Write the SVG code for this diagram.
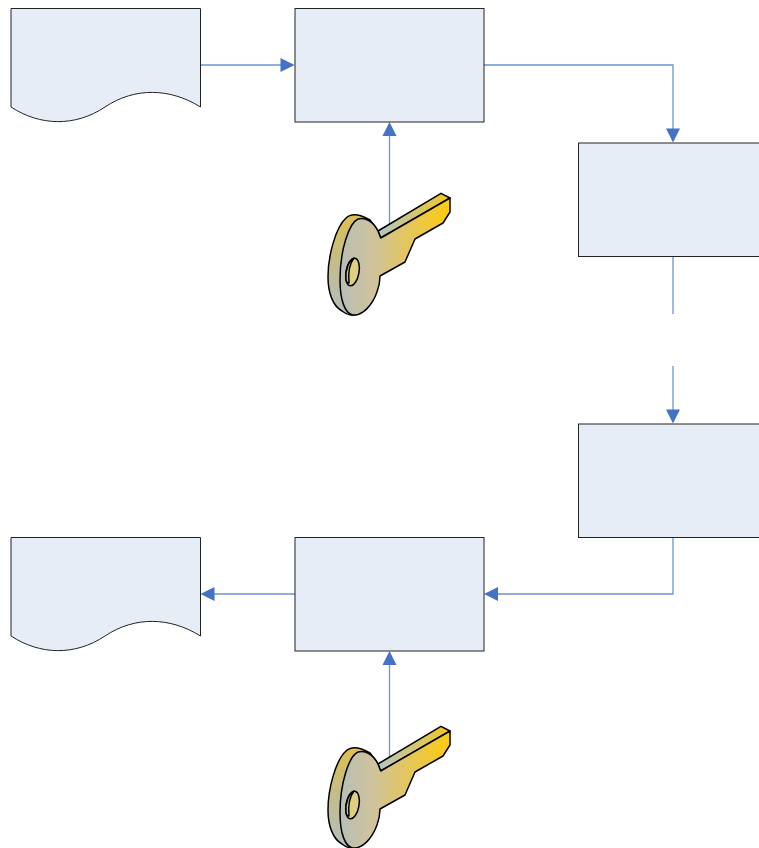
<svg xmlns="http://www.w3.org/2000/svg" xmlns:xlink="http://www.w3.org/1999/xlink" width="759" height="848" viewBox="0 0 759 848">
<style>
.box{fill:#e6edf7;stroke:#222;stroke-width:1}
.conn{fill:none;stroke:#6a94d4;stroke-width:1.3}
.k{stroke:#000;stroke-width:1.5;stroke-linejoin:round}
</style>
<defs>
<linearGradient id="g" gradientUnits="userSpaceOnUse" x1="340" y1="0" x2="450" y2="0">
<stop offset="0" stop-color="#b8bfb6"/><stop offset="0.3" stop-color="#cfc39c"/><stop offset="1" stop-color="#fccb10"/>
</linearGradient>
<linearGradient id="g2" gradientUnits="userSpaceOnUse" x1="378" y1="0" x2="450" y2="0">
<stop offset="0" stop-color="#b4c6c4"/><stop offset="1" stop-color="#f3c820"/>
</linearGradient>
<linearGradient id="g3" gradientUnits="userSpaceOnUse" x1="0" y1="215" x2="0" y2="316">
<stop offset="0" stop-color="#dcc050"/><stop offset="0.45" stop-color="#c5bd88"/><stop offset="1" stop-color="#b2bfc0"/>
</linearGradient>
<path id="head" d="M0 0L-7 14L7 14Z" fill="#4472c4"/>
<g id="key">
<path class="k" fill="url(#g2)" d="M378 231L441 193.300L450 198L380.700 238Z"/>
<path class="k" fill="url(#g3)" d="M378 231L370 220C358 213 350 214 346 218C336 227 328 255 328 277C328 293 333 306 342 311C347 315 353 316 357 314Z"/>
<path class="k" fill="url(#g)" d="M380.700 238L378 231C373 221 365 217 358 219C349 223 340 250 340 280C340 300 345 314 353 315C362 316 372 306 377 292C380 284 380 280 380 276L405 262L415 239L443 223L450 212L450 198Z"/>
<ellipse class="k" cx="352.500" cy="272" rx="6.500" ry="14" transform="rotate(10 352.500 272)" fill="#e0cf80"/>
<path class="k" fill="#c9c08c" stroke-width="1" d="M346 279C345 270 349 260 354 258C350 263 348 272 349 283C347 283 346 281 346 279Z"/>
</g>
</defs>
<g id="connectors">
<path class="conn" d="M200.500 65H284"/>
<path class="conn" d="M484 65H673V132"/>
<path class="conn" d="M389.500 133V228"/>
<path class="conn" d="M673 256.500V314"/>
<path class="conn" d="M673 366V413"/>
<path class="conn" d="M673 537.500V594H495"/>
<path class="conn" d="M295 594H212"/>
<path class="conn" d="M389.500 662V760"/>
<use xlink:href="#head" href="#head" transform="translate(294.500 65) rotate(90)"/>
<use xlink:href="#head" href="#head" transform="translate(673 142.500) rotate(180)"/>
<use xlink:href="#head" href="#head" transform="translate(389.500 122)"/>
<use xlink:href="#head" href="#head" transform="translate(673 423.500) rotate(180)"/>
<use xlink:href="#head" href="#head" transform="translate(484 594) rotate(-90)"/>
<use xlink:href="#head" href="#head" transform="translate(200.500 594) rotate(-90)"/>
<use xlink:href="#head" href="#head" transform="translate(389.500 651)"/>
</g>
<g id="doc1"><path class="box" d="M11 8.500H200.500V107C170 88 135 87 105 107C75 127 40 126 11 107Z"/></g>
<g id="box1"><rect class="box" x="295" y="8.500" width="189" height="113.500"/></g>
<g id="box2"><rect class="box" x="578.500" y="143" width="190" height="113.500"/></g>
<g id="box3"><rect class="box" x="578.500" y="424" width="190" height="113.500"/></g>
<g id="box4"><rect class="box" x="295" y="537.500" width="189" height="113.500"/></g>
<g id="doc2"><path class="box" d="M11 537.500H200.500V636C170 617 135 616 105 636C75 656 40 655 11 636Z"/></g>
<g id="key1"><use xlink:href="#key" href="#key"/></g>
<g id="key2"><use xlink:href="#key" href="#key" transform="translate(0 533)"/></g>
</svg>
